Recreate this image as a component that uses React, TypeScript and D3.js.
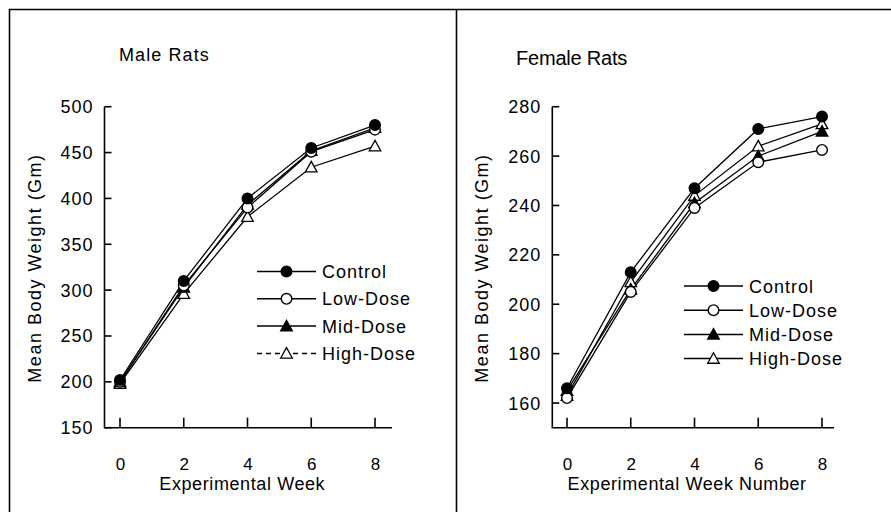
import * as d3 from 'd3'
import { useRef, useEffect } from 'react'

const weeks = [0, 2, 4, 6, 8]
const groups = ['Control', 'Low-Dose', 'Mid-Dose', 'High-Dose']

const maleControl = [202, 310, 400, 455, 480]
const maleLow = [200, 305, 390, 451, 475]
const maleMid = [200, 303, 393, 452, 477]
const maleHigh = [198, 296, 380, 434, 457]

const femaleControl = [166, 213, 247, 271, 276]
const femaleLow = [162, 205, 239, 257.5, 262.5]
const femaleMid = [165, 206, 241, 260, 270]
const femaleHigh = [163, 209, 244, 264, 273]

const maleTicks = [150, 200, 250, 300, 350, 400, 450, 500]
const femaleTicks = [160, 180, 200, 220, 240, 260, 280]

const W = 891
const H = 512
const FONT = '"Liberation Sans", Arial, sans-serif'

interface PanelCfg {
  title: string
  titleX: number
  titleY: number
  titleSize: number
  titleSpacing: number
  xLabel: string
  axisLeft: number
  axisRight: number
  x0: number
  x8: number
  yMin: number
  yMax: number
  yTicks: number[]
  series: number[][]
  legendX: number
  legendY: number
  legendStep: number
  dashHigh: boolean
  yLabelX: number
}

const panels: PanelCfg[] = [
  {
    title: 'Male Rats', titleX: 119, titleY: 61, titleSize: 18, titleSpacing: 1.1,
    xLabel: 'Experimental Week',
    axisLeft: 104.5, axisRight: 392, x0: 120, x8: 375, yMin: 150, yMax: 500,
    yTicks: maleTicks, series: [maleControl, maleLow, maleMid, maleHigh],
    legendX: 257, legendY: 271.5, legendStep: 27.3, dashHigh: true, yLabelX: 41
  },
  {
    title: 'Female Rats', titleX: 516, titleY: 65, titleSize: 20, titleSpacing: -0.2,
    xLabel: 'Experimental Week Number',
    axisLeft: 552.3, axisRight: 834, x0: 567, x8: 822, yMin: 150, yMax: 280,
    yTicks: femaleTicks, series: [femaleControl, femaleLow, femaleMid, femaleHigh],
    legendX: 684, legendY: 286, legendStep: 24.2, dashHigh: false, yLabelX: 488
  }
]

const TOP = 106.7
const BOTTOM = 427.7

function drawMarker(g: d3.Selection<SVGGElement, unknown, null, undefined>, type: number, cx: number, cy: number) {
  if (type === 0 || type === 1) {
    g.append('circle')
      .attr('cx', cx).attr('cy', cy).attr('r', 5.3)
      .attr('fill', type === 0 ? '#000' : '#fff')
      .attr('stroke', '#000').attr('stroke-width', 1.4)
  } else {
    const s = 5.8
    g.append('path')
      .attr('d', `M${cx},${cy - s}L${cx + s},${cy + s * 0.8}L${cx - s},${cy + s * 0.8}Z`)
      .attr('fill', type === 2 ? '#000' : '#fff')
      .attr('stroke', '#000').attr('stroke-width', 1.3)
  }
}

export default function App() {
  const svgRef = useRef<SVGSVGElement>(null)

  useEffect(() => {
    const svg = d3.select(svgRef.current)
    svg.selectAll('*').remove()

    svg.append('rect').attr('width', W).attr('height', H).attr('fill', '#fff')

    // frame
    svg.append('path')
      .attr('d', `M9.5,${H + 5}V9.5H${W + 5}M456.5,9.5V${H + 5}`)
      .attr('fill', 'none').attr('stroke', '#000').attr('stroke-width', 1.6)

    panels.forEach(p => {
      const g = svg.append('g')
      const x = d3.scaleLinear().domain([0, 8]).range([p.x0, p.x8])
      const y = d3.scaleLinear().domain([p.yMin, p.yMax]).range([BOTTOM, TOP])

      // axes
      g.append('path')
        .attr('d', `M${p.axisLeft},${TOP}V${BOTTOM}H${p.axisRight}`)
        .attr('fill', 'none').attr('stroke', '#000').attr('stroke-width', 1.6)

      p.yTicks.forEach(t => {
        g.append('line')
          .attr('x1', p.axisLeft).attr('x2', p.axisLeft + 7)
          .attr('y1', y(t)).attr('y2', y(t))
          .attr('stroke', '#000').attr('stroke-width', 1.6)
        g.append('text')
          .attr('x', p.axisLeft - 11).attr('y', y(t) + 6.5)
          .attr('text-anchor', 'end')
          .attr('font-family', FONT).attr('font-size', 18)
          .attr('letter-spacing', 1)
          .text(t)
      })

      weeks.forEach(w => {
        g.append('line')
          .attr('x1', x(w)).attr('x2', x(w))
          .attr('y1', BOTTOM).attr('y2', BOTTOM - 10)
          .attr('stroke', '#000').attr('stroke-width', 1.6)
        g.append('text')
          .attr('x', x(w) + 0.5).attr('y', 470)
          .attr('text-anchor', 'middle')
          .attr('font-family', FONT).attr('font-size', 17)
          .text(w)
      })

      g.append('text')
        .attr('x', (p.axisLeft + p.axisRight) / 2 - 6).attr('y', 490)
        .attr('text-anchor', 'middle')
        .attr('font-family', FONT).attr('font-size', 18)
        .attr('letter-spacing', 0.6)
        .text(p.xLabel)

      g.append('text')
        .attr('transform', `translate(${p.yLabelX},268) rotate(-90)`)
        .attr('text-anchor', 'middle')
        .attr('font-family', FONT).attr('font-size', 18)
        .attr('letter-spacing', 1.5)
        .text('Mean Body Weight (Gm)')

      g.append('text')
        .attr('x', p.titleX).attr('y', p.titleY)
        .attr('font-family', FONT).attr('font-size', p.titleSize)
        .attr('letter-spacing', p.titleSpacing)
        .text(p.title)

      const line = d3.line<number>().x((_, i) => x(weeks[i])).y(d => y(d))

      p.series.forEach(s => {
        g.append('path')
          .attr('d', line(s))
          .attr('fill', 'none').attr('stroke', '#000').attr('stroke-width', 1.3)
      })
      // markers drawn high-dose first so control sits on top
      for (let k = p.series.length - 1; k >= 0; k--) {
        p.series[k].forEach((v, i) => drawMarker(g, k, x(weeks[i]), y(v)))
      }

      // legend
      groups.forEach((name, k) => {
        const ly = p.legendY + k * p.legendStep
        const lg = g.append('g')
        lg.append('line')
          .attr('x1', p.legendX).attr('x2', p.legendX + 59)
          .attr('y1', ly).attr('y2', ly)
          .attr('stroke', '#000').attr('stroke-width', 1.5)
          .attr('stroke-dasharray', p.dashHigh && k === 3 ? '5,4' : null)
        drawMarker(lg, k, p.legendX + 29.5, ly)
        lg.append('text')
          .attr('x', p.legendX + 65).attr('y', ly + 6.5)
          .attr('font-family', FONT).attr('font-size', 18)
          .attr('letter-spacing', 1)
          .text(name)
      })
    })
  }, [])

  return (
    <svg ref={svgRef} width={W} height={H}
      style={{ position: 'absolute', left: 0, top: 0, display: 'block' }} />
  )
}
